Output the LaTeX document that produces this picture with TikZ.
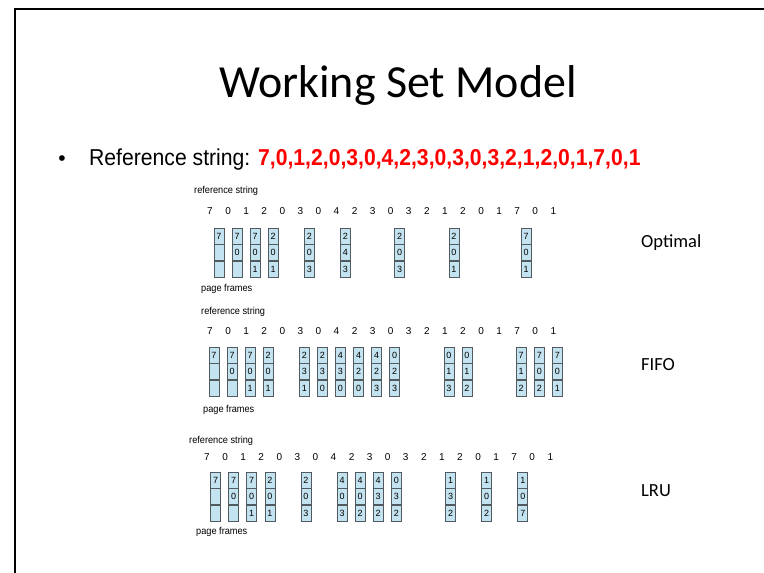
\documentclass[tikz,border=0pt]{standalone}
\usepackage{fontspec}
\usetikzlibrary{positioning}
\newfontfamily\calib{Carlito}
\newfontfamily\arial{Liberation Sans}
\newfontfamily\arialnarrow[FakeStretch=0.92]{Liberation Sans}
\definecolor{framefill}{RGB}{196,227,240}
\definecolor{framedraw}{RGB}{80,90,95}
\tikzset{
  cell/.style={draw=framedraw, fill=framefill, line width=0.6pt, minimum width=10pt,
    minimum height=16pt, inner sep=0pt, font=\arial\fontsize{9}{10}\selectfont},
  refdigit/.style={inner sep=0pt, font=\arial\fontsize{10}{11}\selectfont},
  smalllabel/.style={inner sep=0pt, anchor=west, font=\arialnarrow\fontsize{10}{11}\selectfont},
  algname/.style={inner sep=0pt, anchor=west, font=\calib\fontsize{18.5}{20}\selectfont}
}
\begin{document}
\begin{tikzpicture}[x=1pt,y=-1pt]
        \useasboundingbox (0,0) rectangle (764,573);
        \draw[line width=2.5pt] (15,573) -- (15,9) -- (764,9);
        \node[inner sep=0pt, anchor=base, font=\calib\fontsize{46}{50}\selectfont] (title) at (398,97) {Working Set Model};
        \node[inner sep=0pt, anchor=base, font=\arial\fontsize{21}{24}\selectfont] (bullet) at (62,165) {•};
        \node[inner sep=0pt, anchor=base west, font=\arialnarrow\fontsize{23}{26}\selectfont] (refline) at (89,165)
          {Reference string: \textcolor{red}{\bfseries 7,0,1,2,0,3,0,4,2,3,0,3,0,3,2,1,2,0,1,7,0,1}};

        % optimal
        \node[smalllabel] (opt-ref) at (194,191) {reference string};
        \foreach \d [count=\k from 0] in {7,0,1,2,0,3,0,4,2,3,0,3,2,1,2,0,1,7,0,1}
          \node[refdigit] (opt-r\k) at (210+18.07*\k,211) {\d};
        \foreach \k/\a/\b/\c in {0/7/{}/{},1/7/0/{},2/7/0/1,3/2/0/1,5/2/0/3,7/2/4/3,10/2/0/3,13/2/0/1,17/7/0/1}{
          \node[cell] (opt-f\k-a) at (219+18.07*\k,236) {\a};
          \node[cell, below=0pt of opt-f\k-a] (opt-f\k-b) {\b};
          \node[cell, below=0pt of opt-f\k-b] (opt-f\k-c) {\c};
        }
        \node[smalllabel] (opt-pf) at (201,289) {page frames};
        \node[algname] (opt-name) at (641,243) {Optimal};

        % fifo
        \node[smalllabel] (fifo-ref) at (201,312) {reference string};
        \foreach \d [count=\k from 0] in {7,0,1,2,0,3,0,4,2,3,0,3,2,1,2,0,1,7,0,1}
          \node[refdigit] (fifo-r\k) at (210+18.07*\k,331) {\d};
        \foreach \k/\a/\b/\c in {0/7/{}/{},1/7/0/{},2/7/0/1,3/2/0/1,5/2/3/1,6/2/3/0,7/4/3/0,8/4/2/0,9/4/2/3,
            10/0/2/3,13/0/1/3,14/0/1/2,17/7/1/2,18/7/0/2,19/7/0/1}{
          \node[cell] (fifo-f\k-a) at (214+18.07*\k,355) {\a};
          \node[cell, below=0pt of fifo-f\k-a] (fifo-f\k-b) {\b};
          \node[cell, below=0pt of fifo-f\k-b] (fifo-f\k-c) {\c};
        }
        \node[smalllabel] (fifo-pf) at (203,410) {page frames};
        \node[algname] (fifo-name) at (641,365) {FIFO};

        % lru
        \node[smalllabel] (lru-ref) at (189,441) {reference string};
        \foreach \d [count=\k from 0] in {7,0,1,2,0,3,0,4,2,3,0,3,2,1,2,0,1,7,0,1}
          \node[refdigit] (lru-r\k) at (207+18.07*\k,457) {\d};
        \foreach \k/\a/\b/\c in {0/7/{}/{},1/7/0/{},2/7/0/1,3/2/0/1,5/2/0/3,7/4/0/3,8/4/0/2,9/4/3/2,
            10/0/3/2,13/1/3/2,15/1/0/2,17/1/0/7}{
          \node[cell] (lru-f\k-a) at (215.6+18.07*\k,480) {\a};
          \node[cell, below=0pt of lru-f\k-a] (lru-f\k-b) {\b};
          \node[cell, below=0pt of lru-f\k-b] (lru-f\k-c) {\c};
        }
        \node[smalllabel] (lru-pf) at (196,532) {page frames};
        \node[algname] (lru-name) at (641,491) {LRU};
      \end{tikzpicture}
\end{document}
